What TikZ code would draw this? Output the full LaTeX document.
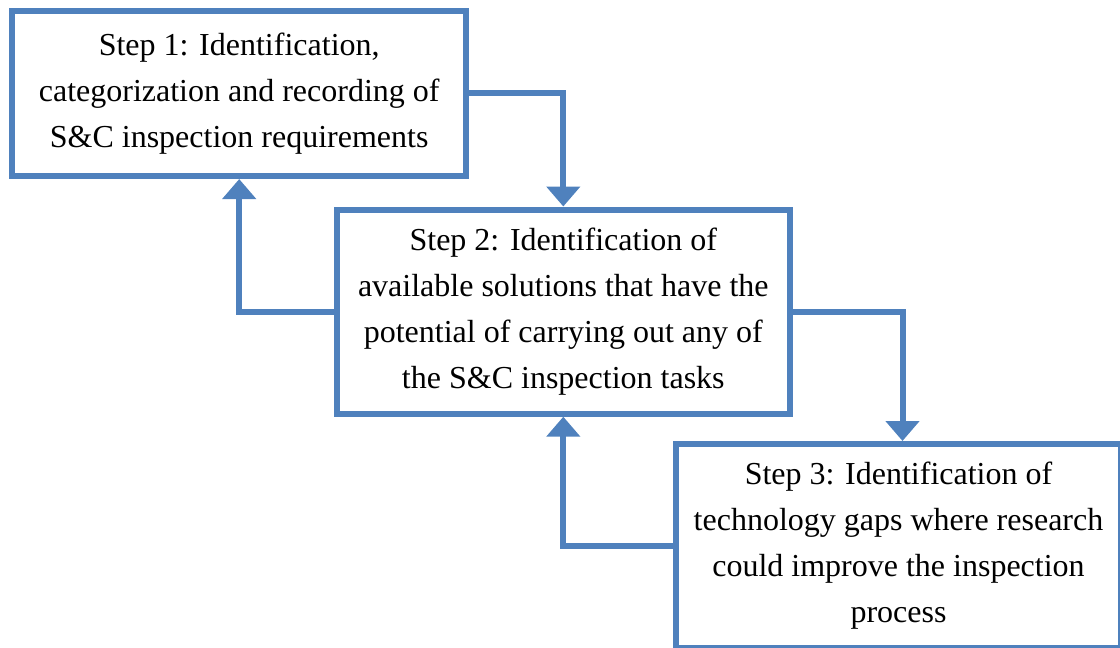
\documentclass[tikz,border=0pt]{standalone}
\usepackage{fontspec}
\setmainfont{Liberation Serif}
\usetikzlibrary{arrows.meta}
\definecolor{stepblue}{HTML}{4F81BD}
\begin{document}
\begin{tikzpicture}[x=1pt,y=-1pt,
  stepbox/.style={draw=stepblue, line width=6pt, fill=white, inner sep=0pt,
    align=center, font=\fontsize{32}{46}\selectfont},
  flow/.style={draw=stepblue, line width=6pt,
    -{Triangle[width=33pt,length=20pt]}}]
\useasboundingbox (0,0) rectangle (1120,648);

% process steps
\node[stepbox, minimum width=453.7pt, minimum height=165.3pt] (s1) at (239.2,93.4)
  {Step 1: Identification,\\categorization and recording of\\S\&C inspection requirements};
\node[stepbox, minimum width=453.3pt, minimum height=204.2pt] (s2) at (563.3,311.6)
  {Step 2: Identification of\\available solutions that have the\\potential of carrying out any of\\the S\&C inspection tasks};
\node[stepbox, minimum width=445pt, minimum height=204pt] (s3) at (898.5,546)
  {Step 3: Identification of\\technology gaps where research\\could improve the inspection\\process};

% forward flow
\draw[flow] (s1.east) -| (s2.north);
\draw[flow] (s2.east) -| ([xshift=4pt]s3.north);
% feedback flow
\draw[flow] (s2.west) -| (s1.south);
\draw[flow] (s3.west) -| (s2.south);
\end{tikzpicture}
\end{document}
